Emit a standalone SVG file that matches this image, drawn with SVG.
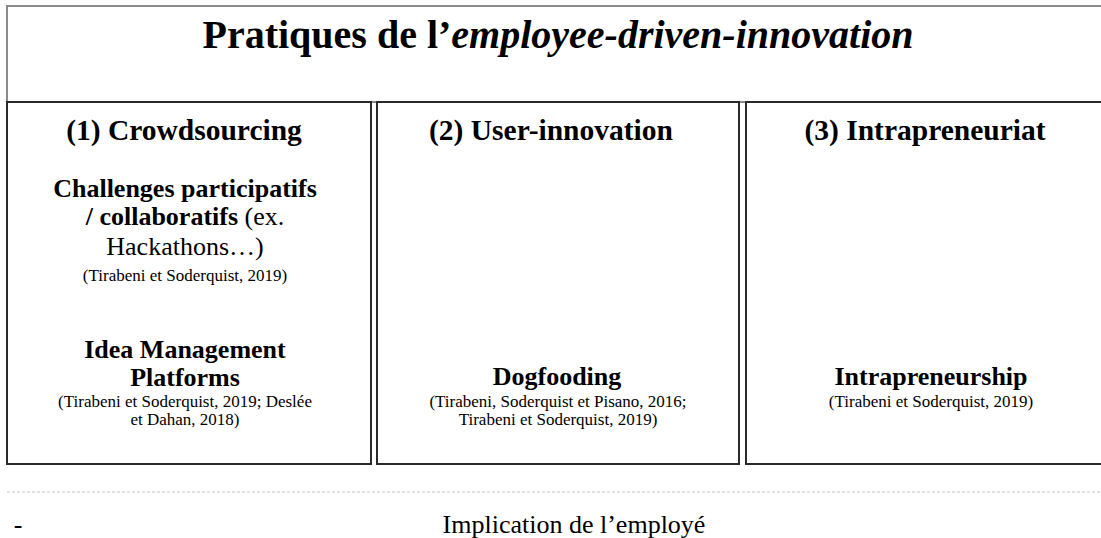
<svg xmlns="http://www.w3.org/2000/svg" width="1101" height="538" viewBox="0 0 1101 538">
<style>
.t{font-family:"Liberation Serif","Times New Roman",serif;fill:#000;text-anchor:middle}
.b{font-weight:bold}
.h{font-size:29.5px;font-weight:bold}
.s{font-size:26px}
.c{font-size:17px}
.box{fill:#fff;stroke:#2a2a2a;stroke-width:2}
</style>
<rect width="1101" height="538" fill="#fff"/>
<g id="header">
<rect x="7" y="6" width="1110" height="96" fill="#fff" stroke="#8a8a8a" stroke-width="2"/>
<text class="t b" x="558" y="48" font-size="40">Pratiques de l’<tspan font-style="italic">employee-driven-innovation</tspan></text>
</g>
<g id="crowdsourcing">
<rect class="box" x="7" y="102" width="364" height="362"/>
<text class="t h" x="184" y="140">(1) Crowdsourcing</text>
<text class="t s b" x="185" y="197">Challenges participatifs</text>
<text class="t s" x="185" y="225"><tspan font-weight="bold">/ collaboratifs</tspan> (ex.</text>
<text class="t s" x="185" y="255">Hackathons…)</text>
<text class="t c" x="185" y="281">(Tirabeni et Soderquist, 2019)</text>
<text class="t s b" x="185" y="358">Idea Management</text>
<text class="t s b" x="185" y="386">Platforms</text>
<text class="t c" x="185" y="407">(Tirabeni et Soderquist, 2019; Deslée</text>
<text class="t c" x="185" y="425">et Dahan, 2018)</text>
</g>
<g id="user-innovation">
<rect class="box" x="377" y="102" width="362" height="362"/>
<text class="t h" x="551" y="140" font-size="31">(2) User-innovation</text>
<text class="t s b" x="557" y="385">Dogfooding</text>
<text class="t c" x="558" y="407">(Tirabeni, Soderquist et Pisano, 2016;</text>
<text class="t c" x="558" y="425">Tirabeni et Soderquist, 2019)</text>
</g>
<g id="intrapreneuriat">
<rect class="box" x="746" y="102" width="372" height="362"/>
<text class="t h" x="925" y="140">(3) Intrapreneuriat</text>
<text class="t s b" x="931" y="385">Intrapreneurship</text>
<text class="t c" x="931" y="407">(Tirabeni et Soderquist, 2019)</text>
</g>
<g id="connectors">
<line x1="7" y1="492" x2="1101" y2="492" stroke="#c4c4c4" stroke-width="1" stroke-dasharray="3 2"/>
</g>
<g id="footer">
<text class="t s" x="18" y="533">-</text>
<text class="t s" x="574" y="533">Implication de l’employé</text>
</g>
</svg>
